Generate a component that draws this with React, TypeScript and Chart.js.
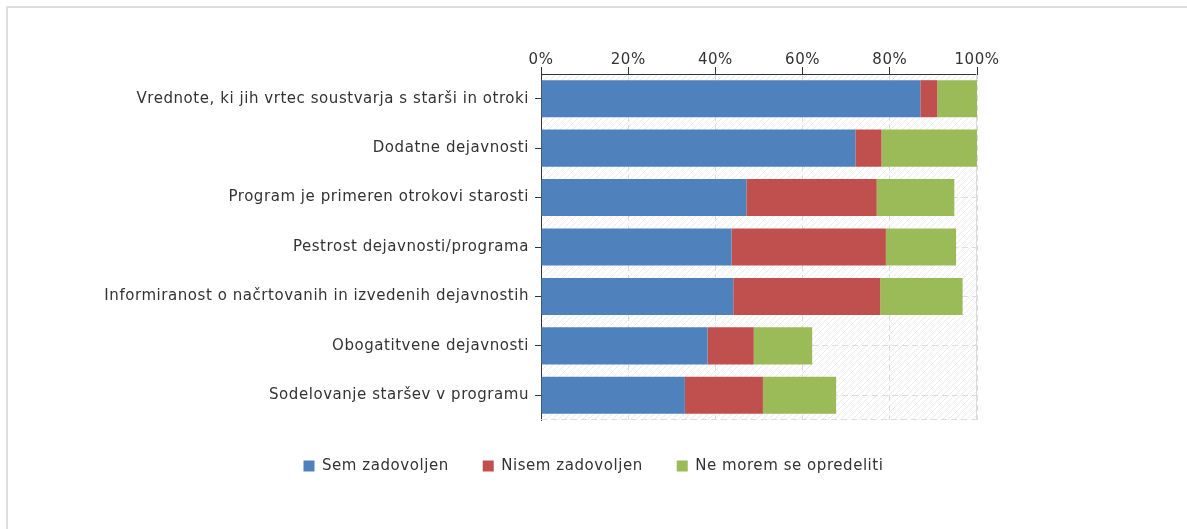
import React, { useEffect, useRef } from "react";
import { Chart, registerables } from "chart.js";

Chart.register(...registerables);

const categories = [
  "Vrednote, ki jih vrtec soustvarja s starši in otroki",
  "Dodatne dejavnosti",
  "Program je primeren otrokovi starosti",
  "Pestrost dejavnosti/programa",
  "Informiranost o načrtovanih in izvedenih dejavnostih",
  "Obogatitvene dejavnosti",
  "Sodelovanje staršev v programu",
];

const semZadovoljen = [87.0, 72.1, 47.1, 43.7, 44.1, 38.2, 33.0];
const nisemZadovoljen = [3.9, 6.0, 29.9, 35.4, 33.7, 10.6, 17.9];
const neMoremSeOpredeliti = [9.1, 21.9, 17.8, 16.1, 18.9, 13.4, 16.8];

const seriesNames = ["Sem zadovoljen", "Nisem zadovoljen", "Ne morem se opredeliti"];
const seriesColors = ["#4F81BD", "#C0504D", "#9BBB59"];

const xMin = 0;
const xMax = 100;
const xStep = 20;

const FONT = "'DejaVu Sans', Verdana, sans-serif";
const FONT_SIZE = 15;
const LETTER_SPACING = "0.55px";
const TEXT = "#333333";
const GRID = "#dcdcdc";

const spacingPlugin = {
  id: "letterSpacing",
  beforeUpdate(chart: any) {
    chart.ctx.letterSpacing = LETTER_SPACING;
  },
  beforeLayout(chart: any) {
    chart.ctx.letterSpacing = LETTER_SPACING;
  },
  beforeDraw(chart: any) {
    chart.ctx.letterSpacing = LETTER_SPACING;
  },
};

const backgroundPlugin = {
  id: "hatchBackground",
  beforeDraw(chart: any) {
    const { ctx, chartArea: a } = chart;
    if (!a) return;
    const pc = document.createElement("canvas");
    pc.width = 6;
    pc.height = 6;
    const p = pc.getContext("2d")!;
    p.fillStyle = "#ffffff";
    p.fillRect(0, 0, 6, 6);
    p.strokeStyle = "#eaeaea";
    p.lineWidth = 1;
    p.beginPath();
    p.moveTo(-1, 7);
    p.lineTo(7, -1);
    p.moveTo(-4, 4);
    p.lineTo(4, -4);
    p.moveTo(2, 10);
    p.lineTo(10, 2);
    p.stroke();
    ctx.save();
    ctx.fillStyle = ctx.createPattern(pc, "repeat");
    ctx.fillRect(a.left, a.top, a.right - a.left, a.bottom - a.top);
    ctx.restore();
  },
  beforeDatasetsDraw(chart: any) {
    const { ctx, chartArea: a } = chart;
    ctx.save();
    ctx.strokeStyle = GRID;
    ctx.lineWidth = 1;
    ctx.setLineDash([]);
    ctx.beginPath();
    ctx.moveTo(Math.round(a.right) - 0.5, a.top);
    ctx.lineTo(Math.round(a.right) - 0.5, a.bottom);
    ctx.stroke();
    ctx.setLineDash([6, 4]);
    ctx.beginPath();
    ctx.moveTo(a.left, Math.round(a.bottom) - 0.5);
    ctx.lineTo(a.right, Math.round(a.bottom) - 0.5);
    ctx.stroke();
    ctx.restore();
  },
};

export default function App() {
  const ref = useRef<HTMLCanvasElement | null>(null);

  useEffect(() => {
    if (!ref.current) return;
    const data = [semZadovoljen, nisemZadovoljen, neMoremSeOpredeliti];
    const chart = new Chart(ref.current, {
      type: "bar",
      data: {
        labels: categories,
        datasets: seriesNames.map((name, i) => ({
          label: name,
          data: data[i],
          backgroundColor: seriesColors[i],
          borderWidth: 0,
          barPercentage: 0.75,
          categoryPercentage: 1,
        })),
      },
      options: {
        indexAxis: "y",
        animation: false,
        responsive: false,
        maintainAspectRatio: false,
        layout: { padding: { left: 0, top: 0, right: 0, bottom: 45.5 } },
        plugins: {
          tooltip: { enabled: false },
          legend: {
            position: "bottom",
            labels: {
              boxWidth: 11,
              boxHeight: 11,
              padding: 34,
              color: TEXT,
              font: { family: FONT, size: FONT_SIZE },
            },
          },
        },
        scales: {
          x: {
            type: "linear",
            position: "top",
            stacked: true,
            min: xMin,
            max: xMax,
            ticks: {
              stepSize: xStep,
              color: TEXT,
              font: { family: FONT, size: FONT_SIZE },
              padding: -2,
              callback: (v: any) => v + "%",
            },
            grid: {
              color: GRID,
              tickColor: TEXT,
              tickLength: 7,
              tickBorderDash: [],
            },
            border: { display: true, color: TEXT, width: 1, dash: [6, 4] },
            afterFit: (s: any) => {
              s.height = 74;
            },
          },
          xb: {
            type: "linear",
            position: "bottom",
            display: true,
            ticks: { display: false },
            grid: { display: false },
            border: { display: false },
            afterFit: (s: any) => {
              s.height = 4.5;
            },
          },
          y: {
            type: "category",
            stacked: true,
            offset: true,
            ticks: {
              color: TEXT,
              font: { family: FONT, size: FONT_SIZE },
              padding: 6,
            },
            grid: {
              offset: false,
              color: GRID,
              tickColor: TEXT,
              tickLength: 6,
              tickBorderDash: [],
            },
            border: { display: true, color: TEXT, width: 1, dash: [6, 4] },
            afterFit: (s: any) => {
              s.width = 541;
            },
          },
          yr: {
            type: "category",
            position: "right",
            display: true,
            labels: [""],
            ticks: { display: false },
            grid: { display: false },
            border: { display: false },
            afterFit: (s: any) => {
              s.width = 210;
            },
          },
        },
      } as any,
      plugins: [spacingPlugin, backgroundPlugin],
    });
    return () => chart.destroy();
  }, []);

  return (
    <div style={{ position: "fixed", left: 0, top: 0, width: 1187, height: 529, background: "#fff", overflow: "hidden" }}>
      <div
        style={{
          position: "absolute",
          left: 6,
          top: 6,
          width: 1300,
          height: 700,
          borderLeft: "2px solid #dedede",
          borderTop: "2px solid #dedede",
        }}
      />
      <canvas ref={ref} width={1187} height={529} style={{ position: "absolute", left: 0, top: 0 }} />
    </div>
  );
}
